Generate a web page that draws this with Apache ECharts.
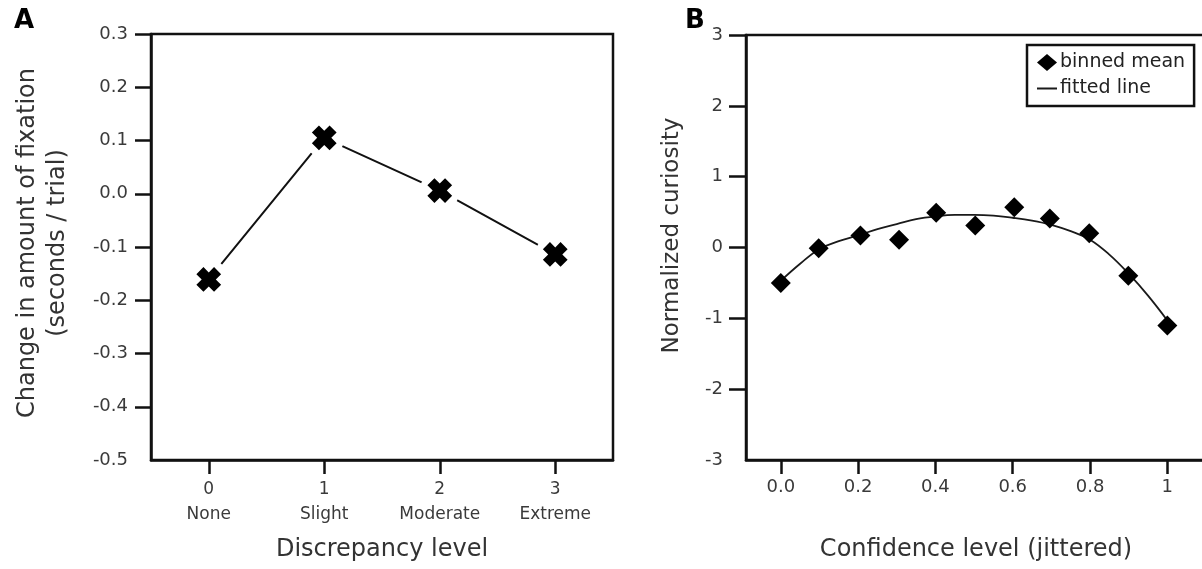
<!DOCTYPE html>
<html><head><meta charset="utf-8">
<script src="https://cdn.jsdelivr.net/npm/echarts@6/dist/echarts.min.js"></script>
<style>html,body{margin:0;padding:0;background:#fff}#c{width:1202px;height:569px}</style>
</head><body><div id="c"></div>
<script>
// ---- Panel A data ----
const discrepancyLevels = [0, 1, 2, 3];
const discrepancyNames = ['None', 'Slight', 'Moderate', 'Extreme'];
const fixationChange = [-0.161, 0.105, 0.006, -0.114];
const leftYTicks = [-0.5, -0.4, -0.3, -0.2, -0.1, 0.0, 0.1, 0.2, 0.3];
const leftYTickLabels = ['-0.5', '-0.4', '-0.3', '-0.2', '-0.1', '0.0', '0.1', '0.2', '0.3'];

// ---- Panel B data ----
const confidenceLevel = [0.0, 0.098, 0.206, 0.306, 0.402, 0.503, 0.604, 0.696, 0.798, 0.899, 1.0];
const binnedMean = [-0.50, -0.01, 0.17, 0.11, 0.49, 0.31, 0.57, 0.41, 0.20, -0.40, -1.10];
const fitX = [0.00, 0.05, 0.10, 0.15, 0.20, 0.25, 0.30, 0.35, 0.40, 0.45, 0.50, 0.55, 0.60, 0.65, 0.70, 0.75, 0.80, 0.85, 0.90, 0.95, 1.00];
const fitY = [-0.47, -0.23, -0.02, 0.09, 0.17, 0.26, 0.33, 0.40, 0.44, 0.46, 0.46, 0.45, 0.42, 0.38, 0.32, 0.23, 0.11, -0.10, -0.37, -0.68, -1.03];
const rightXTicks = [0, 0.2, 0.4, 0.6, 0.8, 1];
const rightXTickLabels = ['0.0', '0.2', '0.4', '0.6', '0.8', '1'];
const rightYTicks = [-3, -2, -1, 0, 1, 2, 3];

const FONT = 'DejaVu Sans';
const INK = '#111';
const axisLineStyle = { onZero: false, lineStyle: { color: INK, width: 2.5 } };
const tickStyle = { color: INK, width: 2.5 };
const labelColor = '#3a3a3a';
const titleColor = '#333';
const xMark = 'path://M-1.2,-3 L1.2,-3 L1.2,-1.2 L3,-1.2 L3,1.2 L1.2,1.2 L1.2,3 L-1.2,3 L-1.2,1.2 L-3,1.2 L-3,-1.2 L-1.2,-1.2 Z';

const chart = echarts.init(document.getElementById('c'), null, { renderer: 'canvas' });
chart.setOption({
  animation: false,
  backgroundColor: '#fff',
  textStyle: { fontFamily: FONT },
  title: [
    { text: 'A', left: 9, top: 3, textStyle: { fontFamily: FONT, fontSize: 26, fontWeight: 'bold', color: '#000' } },
    { text: 'B', left: 680, top: 3, textStyle: { fontFamily: FONT, fontSize: 26, fontWeight: 'bold', color: '#000' } }
  ],
  legend: {
    orient: 'vertical',
    left: 1027, top: 45,
    padding: [8, 9, 8, 10],
    itemGap: 7,
    itemWidth: 20, itemHeight: 17,
    borderColor: INK, borderWidth: 2.5,
    textStyle: { fontFamily: FONT, fontSize: 19, color: '#222', padding: [0, 0, 0, -2] },
    data: [
      { name: 'binned mean', icon: 'diamond', itemStyle: { color: '#000', opacity: 1 } },
      { name: 'fitted line', icon: 'path://M0,0 L20,0 L20,2 L0,2 Z', itemStyle: { color: '#1a1a1a' } }
    ]
  },
  grid: [
    { left: 151, top: 34, width: 462, height: 426, show: true, borderColor: INK, borderWidth: 2.5, outerBoundsMode: 'none', containLabel: false },
    { left: 746, top: 35, width: 460, height: 425, show: true, borderColor: INK, borderWidth: 2.5, outerBoundsMode: 'none', containLabel: false }
  ],
  xAxis: [
    {
      gridIndex: 0, type: 'value', min: -0.5, max: 3.5,
      axisLine: axisLineStyle,
      axisTick: { show: true, length: 14, lineStyle: tickStyle, customValues: discrepancyLevels },
      axisLabel: {
        customValues: discrepancyLevels, margin: 17,
        fontFamily: FONT, fontSize: 17, lineHeight: 25, color: labelColor,
        formatter: v => v + '\n' + discrepancyNames[discrepancyLevels.indexOf(v)]
      },
      splitLine: { show: false },
      name: 'Discrepancy level', nameLocation: 'middle', nameGap: 78,
      nameTextStyle: { fontFamily: FONT, fontSize: 24, color: titleColor }
    },
    {
      gridIndex: 1, type: 'value', min: -0.09, max: 1.1,
      axisLine: axisLineStyle,
      axisTick: { show: true, length: 14, lineStyle: tickStyle, customValues: rightXTicks },
      axisLabel: {
        customValues: rightXTicks, margin: 18,
        fontFamily: FONT, fontSize: 18, color: labelColor,
        formatter: v => rightXTickLabels[rightXTicks.indexOf(v)]
      },
      splitLine: { show: false },
      name: 'Confidence level (jittered)', nameLocation: 'middle', nameGap: 78,
      nameTextStyle: { fontFamily: FONT, fontSize: 24, color: titleColor }
    }
  ],
  yAxis: [
    {
      gridIndex: 0, type: 'value', min: -0.5, max: 0.3,
      axisLine: axisLineStyle,
      axisTick: { show: true, length: 16, lineStyle: tickStyle, customValues: leftYTicks.slice(1) },
      axisLabel: {
        customValues: leftYTicks, margin: 23,
        fontFamily: FONT, fontSize: 18, color: labelColor,
        formatter: v => leftYTickLabels[leftYTicks.indexOf(v)]
      },
      splitLine: { show: false },
      name: 'Change in amount of fixation\n(seconds / trial)', nameLocation: 'middle', nameGap: 78,
      nameTextStyle: { fontFamily: FONT, fontSize: 24, lineHeight: 30, color: titleColor, padding: [0, 0, 0, 8] }
    },
    {
      gridIndex: 1, type: 'value', min: -3, max: 3, interval: 1,
      axisLine: axisLineStyle,
      axisTick: { show: true, length: 17, lineStyle: tickStyle, customValues: rightYTicks.slice(1) },
      axisLabel: {
        margin: 23, fontFamily: FONT, fontSize: 18, color: labelColor
      },
      splitLine: { show: false },
      name: 'Normalized curiosity', nameLocation: 'middle', nameGap: 62,
      nameTextStyle: { fontFamily: FONT, fontSize: 23, color: titleColor, padding: [0, 0, 0, 24] }
    }
  ],
  series: [
    {
      name: 'fixation line', type: 'line', xAxisIndex: 0, yAxisIndex: 0, z: 2,
      data: discrepancyLevels.map((x, i) => [x, fixationChange[i]]),
      symbol: 'none', lineStyle: { color: '#111', width: 2 }, silent: true
    },
    {
      name: 'fixation mask', type: 'scatter', xAxisIndex: 0, yAxisIndex: 0, z: 3,
      data: discrepancyLevels.map((x, i) => [x, fixationChange[i]]),
      symbol: 'circle', symbolSize: 40, itemStyle: { color: '#fff', opacity: 1 }, silent: true
    },
    {
      name: 'fixation', type: 'scatter', xAxisIndex: 0, yAxisIndex: 0, z: 4,
      data: discrepancyLevels.map((x, i) => [x, fixationChange[i]]),
      symbol: xMark, symbolRotate: 45, symbolSize: 25, itemStyle: { color: '#000', opacity: 1 }
    },
    {
      name: 'fitted line', type: 'line', xAxisIndex: 1, yAxisIndex: 1, z: 2,
      data: fitX.map((x, i) => [x, fitY[i]]),
      smooth: 0.4, symbol: 'none', lineStyle: { color: '#1a1a1a', width: 1.8 },
      itemStyle: { color: '#1a1a1a' }
    },
    {
      name: 'binned mean', type: 'scatter', xAxisIndex: 1, yAxisIndex: 1, z: 4,
      data: confidenceLevel.map((x, i) => [x, binnedMean[i]]),
      symbol: 'diamond', symbolSize: 20, itemStyle: { color: '#000', opacity: 1 }
    }
  ]
});
</script>
</body></html>
